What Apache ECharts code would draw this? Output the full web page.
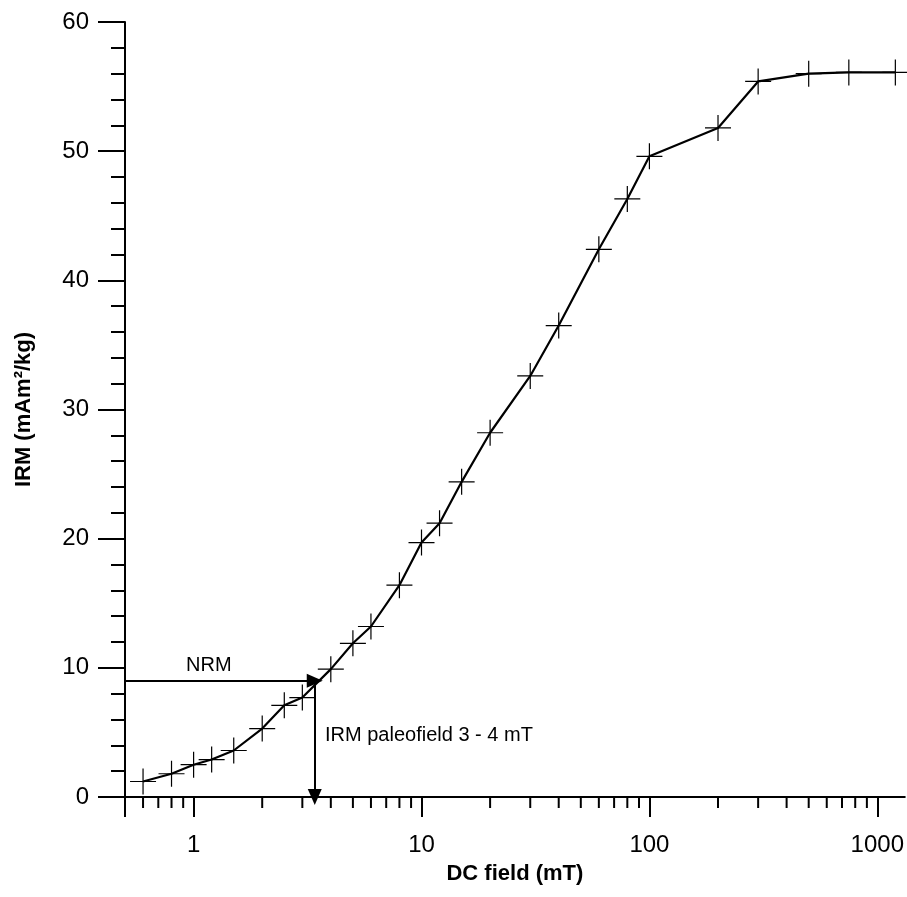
<!DOCTYPE html>
<html>
<head>
<meta charset="UTF-8">
<script src="https://cdn.jsdelivr.net/npm/echarts@6/dist/echarts.min.js"></script>
<style>html,body{margin:0;padding:0;background:#fff}#chart{width:907px;height:897px}</style>
</head>
<body>
<div id="chart"></div>
<script>
// DC field (mT) and IRM (mAm2/kg)
const fields = [0.6, 0.8, 1, 1.2, 1.5, 2, 2.5, 3, 4, 5, 6, 8, 10, 12, 15, 20, 30, 40, 60, 80, 100, 200, 300, 500, 750, 1200];
const irm = [1.2, 1.8, 2.5, 2.9, 3.6, 5.3, 7.1, 7.7, 9.9, 11.9, 13.2, 16.4, 19.7, 21.2, 24.4, 28.2, 32.6, 36.5, 42.4, 46.3, 49.6, 51.8, 55.4, 56.0, 56.1, 56.1];
const minorTicks = [0.6, 0.7, 0.8, 0.9, 2, 3, 4, 5, 6, 7, 8, 9, 20, 30, 40, 50, 60, 70, 80, 90, 200, 300, 400, 500, 600, 700, 800, 900];
const nrm = 9;
const paleofield = 3.4;

const font = '"Liberation Sans", Arial, sans-serif';
const chart = echarts.init(document.getElementById('chart'));
const plus = 'path://M0,-1L0,1M-1,0L1,0';
chart.setOption({
  animation: false,
  grid: {left: 125, right: 2, top: 22, bottom: 100},
  xAxis: {
    type: 'log', min: 0.5, max: 1320, logBase: 10,
    name: 'DC field (mT)', nameLocation: 'middle', nameGap: 66,
    nameTextStyle: {fontFamily: font, fontSize: 22, fontWeight: 'bold', color: '#000'},
    axisLine: {lineStyle: {color: '#000', width: 2}},
    axisTick: {inside: false, length: 20, lineStyle: {color: '#000', width: 2}},
    axisLabel: {fontFamily: font, fontSize: 24, color: '#000', margin: 36,
      formatter: v => (v >= 1 ? String(v) : '')},
    splitLine: {show: false}
  },
  yAxis: {
    type: 'value', min: 0, max: 60, interval: 10,
    name: 'IRM (mAm²/kg)', nameLocation: 'middle', nameGap: 90,
    nameTextStyle: {fontFamily: font, fontSize: 22, fontWeight: 'bold', color: '#000'},
    axisLine: {lineStyle: {color: '#000', width: 2}},
    axisTick: {length: 27, lineStyle: {color: '#000', width: 2}},
    minorTick: {show: true, splitNumber: 5, length: 14, lineStyle: {color: '#000', width: 2}},
    axisLabel: {fontFamily: font, fontSize: 24, color: '#000', margin: 36},
    splitLine: {show: false}
  },
  series: [
    {
      type: 'line',
      data: fields.map((f, i) => [f, irm[i]]),
      symbol: plus, symbolSize: 26, showAllSymbol: true,
      itemStyle: {color: 'none', borderColor: '#000', borderWidth: 1.2},
      lineStyle: {color: '#000', width: 2.2},
      z: 3,
      markLine: {
        silent: true, symbol: ['none', 'triangle'], symbolSize: [14, 16], symbolRotate: null,
        lineStyle: {color: '#000', width: 2, type: 'solid'},
        label: {show: false},
        data: [
          [{coord: [0.5, nrm]}, {coord: [paleofield, nrm]}],
          [{coord: [paleofield, nrm]}, {coord: [paleofield, 0]}]
        ]
      }
    },
    {
      type: 'custom',
      data: minorTicks,
      clip: false, silent: true,
      renderItem: (params, api) => {
        const p = api.coord([api.value(0), 0]);
        return {type: 'line', shape: {x1: p[0], y1: p[1], x2: p[0], y2: p[1] + 11},
          style: {stroke: '#000', lineWidth: 2}};
      }
    }
  ],
  graphic: [
    {type: 'text', left: 186, top: 655, style: {text: 'NRM', font: '20px ' + font, fill: '#000'}},
    {type: 'text', left: 325, top: 725, style: {text: 'IRM paleofield 3 - 4 mT', font: '20px ' + font, fill: '#000'}}
  ]
});
</script>
</body>
</html>
